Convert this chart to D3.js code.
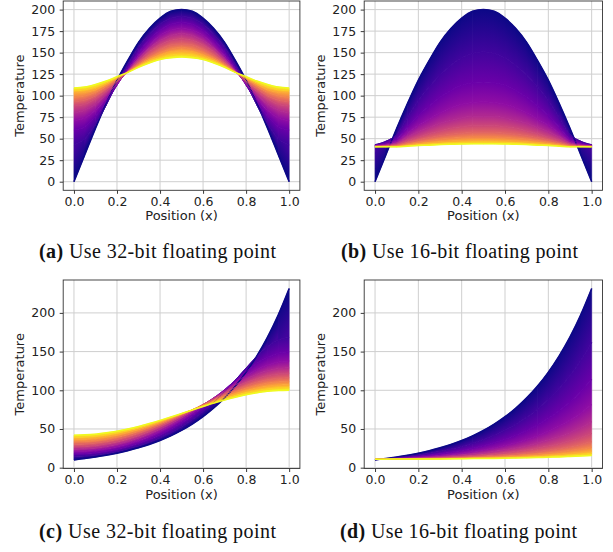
<!DOCTYPE html>
<html><head><meta charset="utf-8">
<script src="https://cdn.jsdelivr.net/npm/d3@7"></script>
<style>body{margin:0;background:#fff} svg{display:block}</style>
</head><body>
<svg id="chart" width="613" height="552"></svg>
<script>
// ---- data ----
const xPositions = [0,0.05,0.1,0.15,0.2,0.25,0.3,0.35,0.4,0.45,0.5,0.55,0.6,0.65,0.7,0.75,0.8,0.85,0.9,0.95,1];
const snapshotFractions = [0,0.1,0.2,0.3,0.4,0.5,0.6,0.7,0.8,0.9,1];

const tempsA32 = [
 [0,31,62,91,118,141,162,178,190,198,200,198,190,178,162,141,118,91,62,31,0],
 [43,50,67,89,114,136,156,171,183,190,192,190,183,171,156,136,114,89,67,50,43],
 [60,64,76,93,112,132,150,165,176,183,185,183,176,165,150,132,112,93,76,64,60],
 [71,74,83,97,113,130,146,159,170,176,178,176,170,159,146,130,113,97,83,74,71],
 [80,83,90,101,114,129,143,155,164,170,172,170,164,155,143,129,114,101,90,83,80],
 [88,90,96,105,116,128,140,151,159,164,166,164,159,151,140,128,116,105,96,90,88],
 [93,95,100,108,117,128,138,147,154,159,160,159,154,147,138,128,117,108,100,95,93],
 [98,100,104,111,119,128,136,144,150,154,156,154,150,144,136,128,119,111,104,100,98],
 [103,104,107,113,120,127,135,142,147,151,152,151,147,142,135,127,120,113,107,104,103],
 [106,107,110,115,121,127,134,140,144,147,148,147,144,140,134,127,121,115,110,107,106],
 [109,110,113,117,122,127,133,138,142,144,145,144,142,138,133,127,122,117,113,110,109]
];
const tempsB16 = [
 [0,31,62,91,118,141,162,178,190,198,200,198,190,178,162,141,118,91,62,31,0],
 [43,47,55,75,94,110,124,135,144,149,151,149,144,135,124,110,94,75,55,47,43],
 [42.5,45,50,64,77,88,98,106,112,115,116,115,112,106,98,88,77,64,50,45,42.5],
 [42,43.5,47,57,66,73,80,86,90,92,93,92,90,86,80,73,66,57,47,43.5,42],
 [41.7,42.5,45,52,58,63,68,71,74,76,76,76,74,71,68,63,58,52,45,42.5,41.7],
 [41.4,42,43.5,48,52,56,59,62,64,65,65,65,64,62,59,56,52,48,43.5,42,41.4],
 [41.2,41.5,42.4,45.6,48.5,51,53.3,55,56.4,57.2,57.4,57.2,56.4,55,53.3,51,48.5,45.6,42.4,41.5,41.2],
 [41,41.2,41.7,43.8,45.9,47.6,49.2,50.4,51.3,51.9,52,51.9,51.3,50.4,49.2,47.6,45.9,43.8,41.7,41.2,41],
 [40.8,41,41.1,42.7,44.1,45.3,46.3,47.2,47.8,48.2,48.3,48.2,47.8,47.2,46.3,45.3,44.1,42.7,41.1,41,40.8],
 [40.7,40.8,40.8,41.8,42.8,43.6,44.4,45,45.4,45.7,45.8,45.7,45.4,45,44.4,43.6,42.8,41.8,40.8,40.8,40.7],
 [40.5,40.6,40.6,41.3,42,42.5,43.1,43.5,43.8,44,44,44,43.8,43.5,43.1,42.5,42,41.3,40.6,40.6,40.5]
];
const tempsC32 = [
 [10,11.7,13.7,16,18.7,21.9,25.7,30,35.1,41.1,48.1,56.3,65.9,77.1,90.2,105.5,123.5,144.5,169,197.8,231.4],
 [14.8,15.2,16.4,18.3,21,24.4,28.4,33.1,38.8,45.3,53,62,72.5,84.5,98.2,113.2,128.8,143.8,156.5,165.1,168.1],
 [17.8,18.2,19.4,21.3,23.9,27.3,31.6,36.7,42.7,49.8,57.9,67.2,77.6,88.9,100.8,112.9,124.5,134.8,142.8,148,149.8],
 [20.9,21.2,22.4,24.3,27.1,30.6,35.1,40.4,46.6,53.7,61.8,70.7,80.3,90.3,100.4,110.2,119.2,126.9,132.8,136.6,137.9],
 [23.9,24.3,25.5,27.5,30.4,34,38.5,43.8,50,56.9,64.6,72.8,81.4,90.2,98.8,107,114.3,120.5,125.1,128,129],
 [27.1,27.5,28.7,30.8,33.6,37.2,41.7,46.9,52.8,59.4,66.5,74,81.7,89.4,96.8,103.8,109.9,115,118.8,121.2,122],
 [30.3,30.7,31.9,33.9,36.7,40.3,44.6,49.5,55.1,61.2,67.8,74.6,81.5,88.3,94.8,100.8,106,110.3,113.5,115.5,116.2],
 [33.5,33.9,35,36.9,39.6,43,47.1,51.8,57,62.7,68.7,74.8,81,87.1,92.8,98,102.5,106.2,109,110.7,111.2],
 [36.5,36.8,38,39.8,42.3,45.6,49.4,53.7,58.6,63.8,69.3,74.8,80.4,85.8,90.9,95.5,99.4,102.7,105.1,106.6,107],
 [39.3,39.7,40.8,42.5,44.9,47.9,51.4,55.5,59.9,64.7,69.7,74.7,79.7,84.5,89.1,93.1,96.7,99.5,101.6,102.9,103.4],
 [42,42.4,43.3,45,47.2,50,53.2,57,61.1,65.4,69.9,74.5,79,83.4,87.4,91,94.2,96.7,98.6,99.7,100.1]
];
const tempsD16 = [
 [10,11.7,13.7,16,18.7,21.9,25.7,30,35.1,41.1,48.1,56.3,65.9,77.1,90.2,105.5,123.5,144.5,169,197.8,231.4],
 [10.3,11.5,12.8,14.4,16.3,18.5,21.1,24,27.5,31.6,36.4,42,48.6,56.2,65.2,75.6,88,102.3,119.1,138.8,161.8],
 [10.5,11.3,12.3,13.3,14.6,16.1,17.9,19.9,22.3,25.1,28.4,32.2,36.7,41.9,48.1,55.2,63.7,73.5,84.9,98.4,114.1],
 [10.7,11.2,11.9,12.6,13.5,14.5,15.7,17.1,18.7,20.6,22.9,25.5,28.6,32.2,36.3,41.2,47,53.7,61.6,70.8,81.5],
 [10.8,11.2,11.6,12.1,12.7,13.4,14.2,15.2,16.3,17.6,19.1,20.9,23,25.5,28.3,31.7,35.6,40.2,45.6,51.9,59.3],
 [10.9,11.1,11.4,11.8,12.2,12.6,13.2,13.9,14.6,15.5,16.6,17.8,19.2,20.9,22.9,25.2,27.9,31,34.7,39,44.1],
 [10.9,11.1,11.3,11.5,11.8,12.1,12.5,12.9,13.5,14.1,14.8,15.6,16.6,17.7,19.1,20.6,22.5,24.6,27.1,30.1,33.5],
 [10.9,11,11.2,11.4,11.5,11.8,12,12.3,12.7,13.1,13.6,14.2,14.8,15.6,16.5,17.6,18.9,20.3,22.1,24.1,26.4],
 [11,11,11.1,11.2,11.4,11.5,11.7,11.9,12.2,12.4,12.8,13.2,13.6,14.2,14.8,15.5,16.4,17.4,18.6,20,21.6],
 [11,11,11.1,11.2,11.3,11.4,11.5,11.6,11.8,12,12.2,12.5,12.8,13.2,13.6,14.1,14.7,15.4,16.2,17.2,18.3],
 [11,11,11.1,11.1,11.2,11.2,11.3,11.4,11.5,11.7,11.8,12,12.2,12.5,12.7,13.1,13.5,13.9,14.5,15.1,15.8]
];

const xTickValues = [0, 0.2, 0.4, 0.6, 0.8, 1.0];
const yTicksTop = [0, 25, 50, 75, 100, 125, 150, 175, 200];
const yTicksBottom = [0, 50, 100, 150, 200];
const xAxisLabel = "Position (x)";
const yAxisLabel = "Temperature";
const captionTags = ["(a)", "(b)", "(c)", "(d)"];
const captionTexts = ["Use 32-bit floating point", "Use 16-bit floating point", "Use 32-bit floating point", "Use 16-bit floating point"];

// ---- layout ----
const layout = [
  {temps: tempsA32, yDomain: [-10, 210], yTicks: yTicksTop, left: 63.2, right: 299.9, top: 1, bottom: 190.3, capX: 157.5, capY: 258},
  {temps: tempsB16, yDomain: [-10, 210], yTicks: yTicksTop, left: 364.2, right: 602.5, top: 1, bottom: 190.3, capX: 459.5, capY: 258},
  {temps: tempsC32, yDomain: [-1.07, 242.5], yTicks: yTicksBottom, left: 63.2, right: 299.9, top: 280, bottom: 468.5, capX: 157.5, capY: 537.5},
  {temps: tempsD16, yDomain: [-1.07, 242.5], yTicks: yTicksBottom, left: 364.2, right: 602.5, top: 280, bottom: 468.5, capX: 458.5, capY: 537.5}
];

const svg = d3.select("#chart");
const defs = svg.append("defs");
const sansFont = "'DejaVu Sans', sans-serif";
const lastIdx = snapshotFractions.length - 1;

layout.forEach((p, pi) => {
  const x = d3.scaleLinear().domain([-0.05, 1.05]).range([p.left, p.right]);
  const y = d3.scaleLinear().domain(p.yDomain).range([p.bottom, p.top]);
  const g = svg.append("g");

  // grid
  g.append("g").selectAll("line").data(xTickValues).join("line")
    .attr("x1", d => x(d)).attr("x2", d => x(d)).attr("y1", p.top).attr("y2", p.bottom)
    .attr("stroke", "#cfcfcf").attr("stroke-width", 1);
  g.append("g").selectAll("line").data(p.yTicks).join("line")
    .attr("x1", p.left).attr("x2", p.right).attr("y1", d => y(d)).attr("y2", d => y(d))
    .attr("stroke", "#cfcfcf").attr("stroke-width", 1);

  // one clip strip per x interval
  const nSeg = xPositions.length - 1;
  for (let i = 0; i < nSeg; i++) {
    const xa = x(xPositions[i]), xb = x(xPositions[i + 1]);
    defs.append("clipPath").attr("id", `clip-${pi}-${i}`)
      .append("rect").attr("x", xa - (i === 0 ? 3 : 0.35)).attr("y", p.top - 5)
      .attr("width", xb - xa + (i === 0 ? 3 : 0.35) + (i === nSeg - 1 ? 3 : 0.35))
      .attr("height", p.bottom - p.top + 10);
  }

  // bands between consecutive snapshots, shaded across the band
  const bandsG = g.append("g");
  for (let k = 0; k < lastIdx; k++) {
    const lower = p.temps[k], upper = p.temps[k + 1];
    const c0 = d3.interpolatePlasma(snapshotFractions[k]);
    const c1 = d3.interpolatePlasma(snapshotFractions[k + 1]);
    const area = d3.area()
      .x((d, i) => x(xPositions[i]))
      .y0((d, i) => y(lower[i]))
      .y1((d, i) => y(upper[i]))
      .curve(d3.curveMonotoneX);
    const dPath = area(xPositions);
    for (let i = 0; i < nSeg; i++) {
      const xa = x(xPositions[i]), xb = x(xPositions[i + 1]);
      const yla = y(lower[i]), ylb = y(lower[i + 1]);
      const yua = y(upper[i]), yub = y(upper[i + 1]);
      const xm = (xa + xb) / 2, ylm = (yla + ylb) / 2, yum = (yua + yub) / 2;
      const s = ((ylb - yla) + (yub - yua)) / 2 / (xb - xa);
      const norm = Math.sqrt(1 + s * s);
      const nx = -s / norm, ny = 1 / norm;
      const dist = (yum - ylm) / norm;
      let fill;
      if (Math.abs(dist) < 0.05) {
        fill = d3.interpolatePlasma((snapshotFractions[k] + snapshotFractions[k + 1]) / 2);
      } else {
        const gid = `gr-${pi}-${k}-${i}`;
        const gr = defs.append("linearGradient").attr("id", gid)
          .attr("gradientUnits", "userSpaceOnUse")
          .attr("x1", xm).attr("y1", ylm)
          .attr("x2", xm + nx * dist).attr("y2", ylm + ny * dist);
        gr.append("stop").attr("offset", 0).attr("stop-color", c0);
        gr.append("stop").attr("offset", 1).attr("stop-color", c1);
        fill = `url(#${gid})`;
      }
      bandsG.append("path").attr("d", dPath)
        .attr("clip-path", `url(#clip-${pi}-${i})`)
        .attr("fill", fill).attr("stroke", fill).attr("stroke-width", 0.6);
    }
  }
  // snapshot lines
  const linesG = g.append("g");
  p.temps.forEach((vals, k) => {
    const line = d3.line()
      .x((d, i) => x(xPositions[i]))
      .y(d => y(d))
      .curve(d3.curveMonotoneX);
    linesG.append("path").attr("d", line(vals))
      .attr("fill", "none")
      .attr("stroke", d3.interpolatePlasma(snapshotFractions[k]))
      .attr("stroke-width", (k === 0 || k === lastIdx) ? 1.5 : 0.8);
  });

  // axes
  const xAxis = d3.axisBottom(x).tickValues(xTickValues).tickFormat(d3.format(".1f")).tickSize(3.5).tickPadding(3);
  const yAxis = d3.axisLeft(y).tickValues(p.yTicks).tickFormat(d3.format("d")).tickSize(3.5).tickPadding(4.5);
  const gx = g.append("g").attr("transform", `translate(0,${p.bottom})`).call(xAxis);
  const gy = g.append("g").attr("transform", `translate(${p.left},0)`).call(yAxis);
  [gx, gy].forEach(ax => {
    ax.select(".domain").remove();
    ax.selectAll("line").attr("stroke", "#222").attr("stroke-width", 0.9);
    ax.selectAll("text").attr("fill", "#222").style("font-family", sansFont).style("font-size", "12.5px");
  });

  // frame
  g.append("rect").attr("x", p.left).attr("y", p.top)
    .attr("width", p.right - p.left).attr("height", p.bottom - p.top)
    .attr("fill", "none").attr("stroke", "#333").attr("stroke-width", 0.9);

  // axis labels
  g.append("text").attr("x", (p.left + p.right) / 2).attr("y", p.bottom + 30)
    .attr("text-anchor", "middle").attr("fill", "#222")
    .style("font-family", sansFont).style("font-size", "13px").text(xAxisLabel);
  g.append("text")
    .attr("transform", `translate(${p.left - 39},${(p.top + p.bottom) / 2}) rotate(-90)`)
    .attr("text-anchor", "middle").attr("fill", "#222")
    .style("font-family", sansFont).style("font-size", "13px").text(yAxisLabel);

  // caption
  const cap = svg.append("text").attr("x", p.capX).attr("y", p.capY)
    .attr("text-anchor", "middle").attr("fill", "#111")
    .attr("textLength", 237).attr("lengthAdjust", "spacing")
    .style("font-family", "'Liberation Serif', 'Times New Roman', serif").style("font-size", "20px");
  cap.append("tspan").style("font-weight", "bold").text(captionTags[pi]);
  cap.append("tspan").text(" " + captionTexts[pi]);
});
</script>
</body></html>
